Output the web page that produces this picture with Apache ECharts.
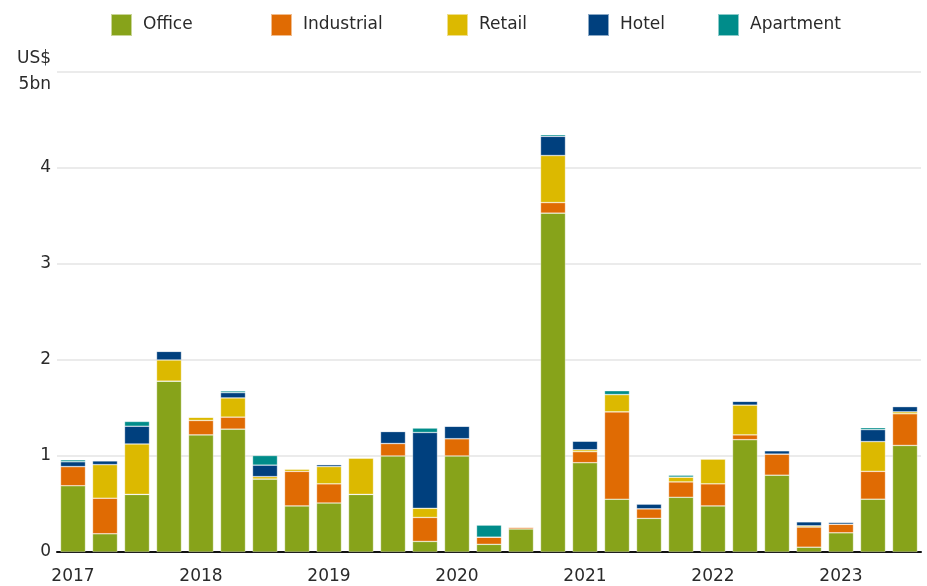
<!DOCTYPE html>
<html>
<head>
	<meta charset="utf-8">
	<title>charts</title>
	<script type="text/javascript" src="https://cdn.jsdelivr.net/npm/echarts@6/dist/echarts.min.js"></script>
	<style>body{margin:0;background:#fff;}</style>
</head>
<body>
	<div id="main" style="width: 927px;height:586px;"></div>
	<script type="text/javascript">
		// quarters 2017 Q1 .. 2023 Q3, US$ bn
		var quarters = [
			'2017Q1','2017Q2','2017Q3','2017Q4',
			'2018Q1','2018Q2','2018Q3','2018Q4',
			'2019Q1','2019Q2','2019Q3','2019Q4',
			'2020Q1','2020Q2','2020Q3','2020Q4',
			'2021Q1','2021Q2','2021Q3','2021Q4',
			'2022Q1','2022Q2','2022Q3','2022Q4',
			'2023Q1','2023Q2','2023Q3'
		];
		var office     = [0.69,0.19,0.60,1.78, 1.22,1.28,0.76,0.48, 0.51,0.60,1.00,0.11, 1.00,0.08,0.24,3.53, 0.93,0.55,0.35,0.57, 0.48,1.17,0.80,0.05, 0.20,0.55,1.11];
		var industrial = [0.20,0.37,0.00,0.00, 0.15,0.125,0.00,0.36, 0.20,0.00,0.13,0.25, 0.18,0.075,0.02,0.11, 0.115,0.91,0.10,0.16, 0.23,0.05,0.22,0.21, 0.09,0.29,0.33];
		var retail     = [0.00,0.35,0.525,0.22, 0.035,0.20,0.025,0.025, 0.18,0.38,0.00,0.095, 0.00,0.00,0.00,0.49, 0.02,0.18,0.00,0.05, 0.26,0.31,0.00,0.013, 0.00,0.31,0.02];
		var hotel      = [0.05,0.04,0.185,0.09, 0.00,0.055,0.12,0.00, 0.02,0.00,0.125,0.79, 0.13,0.00,0.00,0.20, 0.09,0.00,0.05,0.00, 0.00,0.04,0.035,0.042, 0.02,0.125,0.055];
		var apartment  = [0.02,0.00,0.05,0.00, 0.00,0.018,0.10,0.00, 0.00,0.00,0.00,0.046, 0.00,0.125,0.00,0.017, 0.00,0.04,0.00,0.02, 0.00,0.00,0.00,0.00, 0.00,0.02,0.00];

		var names = ['Office','Industrial','Retail','Hotel','Apartment'];
		var colors = ['#87a31a','#e06b03','#dcb900','#00407e','#008c8a'];
		var values = [office, industrial, retail, hotel, apartment];
		var legendLeft = [110, 270, 446, 587, 717];

		var FONT = 'DejaVu Sans';
		var txt = '#2a2a2a';

		var myChart = echarts.init(document.getElementById('main'));

		var legends = names.map(function(n, i){
			return {
				data: [n],
				left: legendLeft[i],
				top: 13,
				padding: 0,
				itemWidth: 21,
				itemHeight: 22,
				itemGap: 12,
				icon: 'rect',
				textStyle: {fontFamily: FONT, fontSize: 17, color: txt, padding: [0,0,0,6]}
			};
		});

		var option = {
			animation: false,
			legend: legends,
			grid: {left: 57, right: 6, top: 72, bottom: 34},
			xAxis: {
				type: 'category',
				data: quarters,
				axisTick: {show: false},
				axisLine: {lineStyle: {color: '#111', width: 2}},
				axisLabel: {
					interval: 3,
					margin: 16,
					fontFamily: FONT, fontSize: 17, color: txt,
					formatter: function(v){ return v.slice(0,4); }
				}
			},
			yAxis: {
				type: 'value',
				min: 0, max: 5, interval: 1,
				axisLine: {show: false},
				axisTick: {show: false},
				splitLine: {lineStyle: {color: '#e4e4e4', width: 1.5}},
				axisLabel: {
					margin: 6,
					fontFamily: FONT, fontSize: 17, color: txt, lineHeight: 26,
					formatter: function(v){ return v === 5 ? 'US$\n5bn' : String(v); }
				}
			},
			series: names.map(function(n, i){
				return {
					name: n,
					type: 'bar',
					stack: 'total',
					barCategoryGap: '22%',
					data: values[i],
					itemStyle: {color: colors[i], borderColor: 'rgba(255,255,255,0.55)', borderWidth: 0.6}
				};
			})
		};

		myChart.setOption(option);
	</script>
</body>
</html>
